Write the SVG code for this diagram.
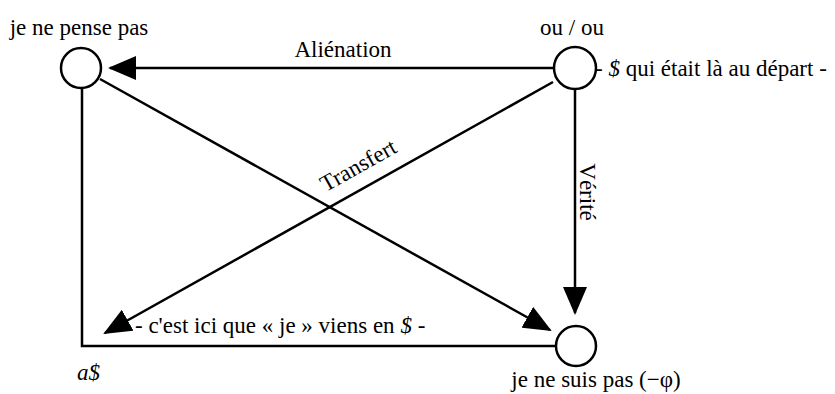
<svg xmlns="http://www.w3.org/2000/svg" width="835" height="394" viewBox="0 0 835 394">
<style>
  .node { fill: #fff; stroke: #000; stroke-width: 2.5; }
  .edge { fill: none; stroke: #000; stroke-width: 2.5; }
  .t { font-family: "Liberation Serif", "DejaVu Serif", serif; font-size: 23px; fill: #000; }
</style>
<defs>
  <marker id="arr" viewBox="0 0 28 24" refX="26" refY="12" markerWidth="28" markerHeight="24" markerUnits="userSpaceOnUse" orient="auto">
    <path d="M0,0 L28,12 L0,24 z" fill="#000"/>
  </marker>
</defs>
<rect width="835" height="394" fill="#fff"/>
<g id="connectors">
  <polyline class="edge" points="82,88 82,346 556,346"/>
  <line id="alienation" class="edge" x1="554" y1="68" x2="110" y2="68" marker-end="url(#arr)"/>
  <line id="verite" class="edge" x1="575" y1="89" x2="575" y2="313" marker-end="url(#arr)"/>
  <line id="cross" class="edge" x1="100" y1="79" x2="550" y2="330" marker-end="url(#arr)"/>
  <line id="transfert" class="edge" x1="553" y1="82" x2="105" y2="333" marker-end="url(#arr)"/>
  <text class="t" x="343" y="57" text-anchor="middle">Aliénation</text>
  <text class="t" transform="translate(362,172) rotate(-29.2)" text-anchor="middle">Transfert</text>
  <text class="t" transform="translate(580,192) rotate(90)" text-anchor="middle">Vérité</text>
  <text class="t" x="135" y="333">- c'est ici que « je » viens en <tspan font-style="italic">$</tspan> -</text>
</g>
<g id="n-jenepensepas">
  <circle class="node" cx="81" cy="68" r="20"/>
  <text class="t" x="79" y="35" text-anchor="middle">je ne pense pas</text>
</g>
<g id="n-ouou">
  <circle class="node" cx="575" cy="68" r="21"/>
  <text class="t" x="572" y="35" text-anchor="middle">ou / ou</text>
  <text class="t" x="595" y="76">- <tspan font-style="italic">$</tspan> qui était là au départ -</text>
</g>
<g id="n-jenesuispas">
  <circle class="node" cx="576" cy="346" r="20"/>
  <text class="t" x="596" y="387" text-anchor="middle">je ne suis pas (−φ)</text>
</g>
<g id="n-a">
  <text class="t" x="77" y="380" font-style="italic" font-size="25">a$</text>
</g>
</svg>
